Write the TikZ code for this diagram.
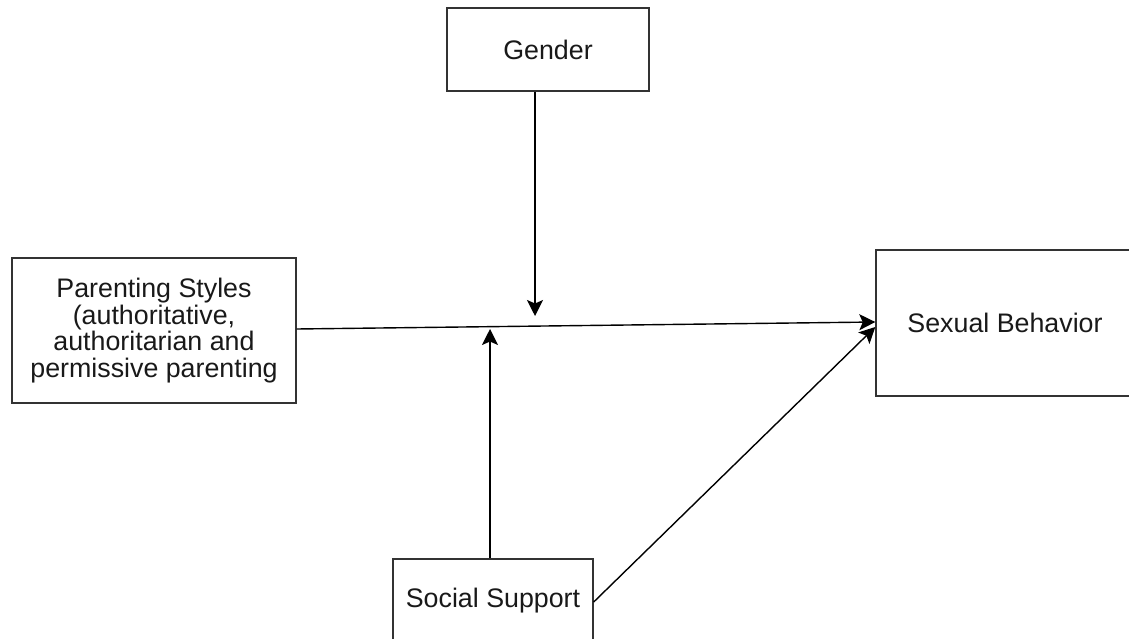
\documentclass[tikz,border=0pt]{standalone}
\usepackage{fontspec}
\setmainfont{Liberation Sans}
\usetikzlibrary{arrows.meta}
\begin{document}
\begin{tikzpicture}[x=1pt,y=-1pt,
  box/.style={draw=black!80, line width=1.4pt, inner sep=0pt, align=center,
    font=\fontsize{26.8}{26.5}\selectfont, text=black!90},
  conn/.style={draw=black, line width=1.4pt,
    -{Stealth[length=16pt,width=16pt,inset=3.5pt]}}]
\useasboundingbox (0,0) rectangle (1129,639);
\clip (0,0) rectangle (1129,639);
\node[box, minimum width=202pt, minimum height=83pt] (gen) at (548,49.5) {Gender};
\node[box, minimum width=284pt, minimum height=145pt] (par) at (154,330.5)
  {Parenting Styles\\(authoritative,\\authoritarian and\\permissive parenting};
\node[box, minimum width=258pt, minimum height=146pt] (sex) at (1005,323) {Sexual Behavior};
\node[box, minimum width=200pt, minimum height=83pt] (soc) at (493,600.5) {Social Support};
\coordinate (gtip) at (535,316);
\coordinate (stip) at (490,329);
\draw[conn] ([yshift=1.5pt]par.east) -- ([yshift=1pt]sex.west);
\draw[conn] ([xshift=-13pt]gen.south) -- (gtip);
\draw[conn] ([xshift=-3pt]soc.north) -- (stip);
\draw[conn] ([yshift=-1.5pt]soc.east) -- ([yshift=-4pt]sex.west);
\end{tikzpicture}
\end{document}
